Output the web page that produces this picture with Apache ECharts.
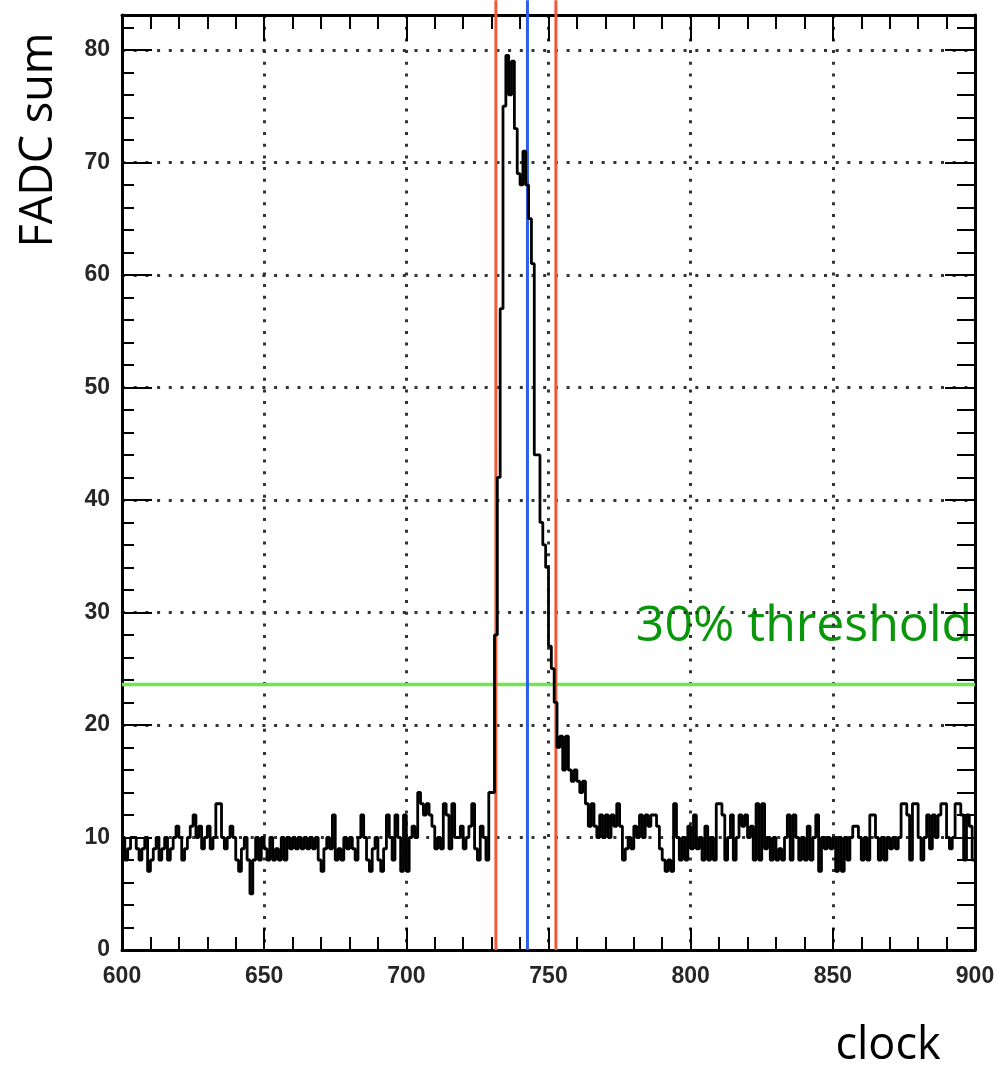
<!DOCTYPE html>
<html>
<head>
<meta charset="utf-8">
<title>FADC sum vs clock</title>
<script src="https://cdn.jsdelivr.net/npm/echarts@6/dist/echarts.min.js"></script>
<style>
  html, body { margin: 0; padding: 0; background: #ffffff; }
  #chart { width: 1008px; height: 1068px; }
</style>
</head>
<body>
<div id="chart"></div>
<script>
// one value per clock bin, 600..899
const clockStart = 600;
const clockEnd = 900;
const fadcSum = [
  10, 8, 9, 10, 10, 9, 8, 9, 10, 7,        // 600
  8, 9, 10, 8, 9, 10, 8, 9, 10, 11,        // 610
  10, 8, 9, 10, 11, 12, 10, 11, 9, 10,     // 620
  11, 9, 10, 13, 13, 10, 9, 10, 11, 10,    // 630
  8, 7, 9, 10, 8, 5, 8, 10, 8, 10,         // 640
  9, 8, 10, 8, 9, 8, 10, 8, 10, 9,         // 650
  10, 9, 10, 9, 10, 9, 10, 9, 10, 8,       // 660
  7, 9, 10, 9, 12, 8, 9, 8, 10, 9,         // 670
  10, 9, 8, 10, 12, 10, 8, 7, 9, 10,       // 680
  8, 7, 9, 12, 10, 8, 12, 10, 7, 12,       // 690
  7, 10, 11, 10, 14, 13, 12, 13, 12, 11,   // 700
  9, 10, 9, 13, 12, 9, 13, 10, 10, 11,     // 710
  9, 10, 11, 13, 9, 8, 11, 10, 8, 14,      // 720
  14, 28, 42, 57, 75, 79.5, 76, 79, 73, 69, // 730
  68, 71, 68, 65, 61, 44, 44, 38, 36, 34,  // 740
  27, 25, 22, 18, 19, 16, 19, 16, 15, 16,  // 750
  15, 14, 15, 13, 11, 13, 11, 10, 12, 10,  // 760
  12, 10, 12, 11, 13, 11, 8, 9, 10, 9,     // 770
  11, 10, 12, 10, 12, 11, 12, 12, 11, 9,   // 780
  8, 7, 8, 7, 13, 10, 8, 10, 8, 11,        // 790
  9, 12, 9, 10, 8, 11, 8, 10, 8, 13,       // 800
  13, 12, 8, 10, 12, 8, 10, 12, 11, 12,    // 810
  10, 11, 8, 13, 8, 13, 9, 10, 8, 10,      // 820
  8, 9, 8, 10, 12, 8, 12, 10, 8, 10,       // 830
  8, 11, 8, 10, 12, 7, 10, 9, 10, 9,       // 840
  10, 7, 10, 7, 10, 8, 10, 11, 11, 10,     // 850
  8, 10, 8, 12, 12, 10, 8, 10, 8, 10,      // 860
  9, 10, 9, 10, 13, 13, 12, 8, 13, 13,     // 870
  10, 8, 10, 12, 9, 12, 10, 12, 13, 13,    // 880
  10, 9, 10, 13, 13, 12, 8, 12, 11, 8      // 890
];

const edgeClocks = [731.5, 752.6];   // red window edges
const peakClock = 742.6;             // blue line
const thresholdValue = 23.6;         // 30% threshold (green)
const yMax = 83.1;
const lineTop = 84.4;                // red/blue lines run up to the top of the image

const histPoints = fadcSum.map((v, i) => [clockStart + i, v]);
histPoints.push([clockStart + fadcSum.length, fadcSum[fadcSum.length - 1]]);

const labelFont = {
  color: "#262626",
  fontFamily: "Liberation Sans",
  fontWeight: "bold",
  fontSize: 23,
};

const dotted = {
  show: true,
  lineStyle: { color: "#333", width: 3, type: [3, 8.7] },
};

function xAxisDef(position, tickLen, minorLen, withLabels) {
  return {
    type: "value",
    position,
    min: clockStart,
    max: clockEnd,
    interval: 50,
    axisLine: { show: true, onZero: false, lineStyle: { color: "#000", width: 3 } },
    axisTick: { show: true, inside: true, length: tickLen, lineStyle: { color: "#000", width: 2 } },
    minorTick: { show: true, splitNumber: 5, length: minorLen, lineStyle: { color: "#000", width: 2 } },
    axisLabel: withLabels ? { show: true, margin: 15, ...labelFont } : { show: false },
    splitLine: withLabels ? dotted : { show: false },
  };
}

function yAxisDef(position, interval, tickLen, opts) {
  return {
    type: "value",
    position,
    min: 0,
    max: yMax,
    interval,
    axisLine: { show: !!opts.line, onZero: false, lineStyle: { color: "#000", width: 3 } },
    axisTick: { show: true, inside: true, length: tickLen, lineStyle: { color: "#000", width: 2 } },
    axisLabel: opts.labels ? { show: true, margin: 12, showMaxLabel: false, ...labelFont } : { show: false },
    splitLine: opts.grid ? dotted : { show: false },
  };
}

function straightLine(points, color, width) {
  return {
    type: "line",
    data: points,
    clip: false,
    silent: true,
    symbol: "none",
    z: 3,
    lineStyle: { color, width },
  };
}

const chart = echarts.init(document.getElementById("chart"));

chart.setOption({
  animation: false,
  backgroundColor: "#ffffff",
  grid: { left: 122, right: 33, top: 15, bottom: 118 },
  xAxis: [
    xAxisDef("bottom", 22, 13, true),
    xAxisDef("top", 26, 14, false),
  ],
  yAxis: [
    yAxisDef("left", 10, 30, { line: true, labels: true, grid: true }),
    yAxisDef("left", 2, 12, {}),
    yAxisDef("right", 10, 30, { line: true }),
    yAxisDef("right", 2, 18, {}),
  ],
  graphic: [
    {
      type: "text",
      x: 39,
      y: 140,
      rotation: Math.PI / 2,
      style: {
        text: "FADC sum",
        fill: "#000",
        font: "45px 'Open Sans'",
        align: "center",
        verticalAlign: "middle",
      },
    },
    {
      type: "text",
      x: 888,
      y: 1046,
      style: {
        text: "clock",
        fill: "#000",
        font: "45px 'Open Sans'",
        align: "center",
        verticalAlign: "middle",
      },
    },
    {
      type: "text",
      x: 804,
      y: 627,
      style: {
        text: "30% threshold",
        fill: "#0a960a",
        font: "50px 'Open Sans'",
        align: "center",
        verticalAlign: "middle",
      },
    },
  ],
  series: [
    straightLine([[clockStart, thresholdValue], [clockEnd, thresholdValue]], "#6ee64e", 3.5),
    straightLine([[edgeClocks[0], 0], [edgeClocks[0], lineTop]], "#f0583a", 3),
    straightLine([[edgeClocks[1], 0], [edgeClocks[1], lineTop]], "#f0583a", 3),
    straightLine([[peakClock, 0], [peakClock, lineTop]], "#2e5ee8", 3),
    {
      type: "line",
      data: histPoints,
      step: "end",
      symbol: "none",
      silent: true,
      z: 5,
      lineStyle: { color: "#000", width: 2.8 },
    },
  ],
});
</script>
</body>
</html>
